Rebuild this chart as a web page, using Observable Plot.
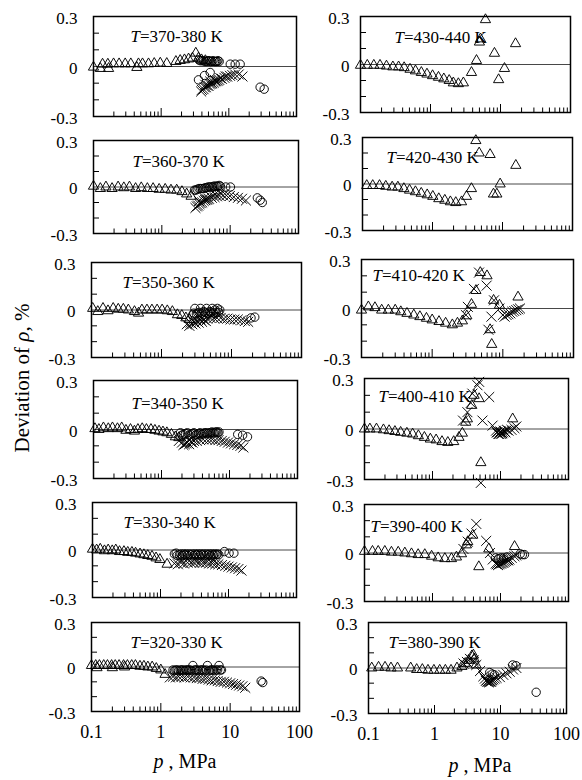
<!DOCTYPE html>
<html>
<head>
<meta charset="utf-8">
<script src="https://cdn.jsdelivr.net/npm/d3@7"></script>
<script src="https://cdn.jsdelivr.net/npm/@observablehq/plot@0.6"></script>
<style>
  body { margin: 0; background: #fff; }
  #fig { position: relative; width: 582px; height: 780px; font-family: "Liberation Serif", "Times New Roman", serif; color: #000; }
  #fig svg { position: absolute; overflow: visible; }
  .ytitle { position: absolute; left: 22px; top: 378px; transform: translate(-50%, -50%) rotate(-90deg); font-size: 21px; white-space: nowrap; }
  .xtitle { position: absolute; font-size: 20px; transform: translate(-50%, -50%); white-space: nowrap; }
</style>
</head>
<body>
<div id="fig">
  <div class="ytitle">Deviation of <i>ρ</i>, %</div>
  <div class="xtitle" style="left:185px;top:761px"><i>p</i> , MPa</div>
  <div class="xtitle" style="left:480px;top:765px"><i>p</i> , MPa</div>
</div>
<script>
// Temperature ranges of the twelve panels
const ranges = ["370-380", "360-370", "350-360", "340-350", "330-340", "320-330",
                "430-440", "420-430", "410-420", "400-410", "390-400", "380-390"];

// Axis ticks
const xLabels = [0.1, 1, 10, 100];
const xMajor = [1, 10];
const xMinor = [0.2, 0.3, 0.4, 0.5, 0.6, 0.7, 0.8, 0.9, 2, 3, 4, 5, 6, 7, 8, 9, 20, 30, 40, 50, 60, 70, 80, 90];
const yLabels = [-0.3, 0, 0.3];
const yMinor = [-0.2, -0.1, 0.1, 0.2];

// Deviations [p (MPa), deviation (%)] — triangles, circles, crosses
const tri370 = [[0.1,-0.004],[0.126,-0.012],[0.136,0.014],[0.163,0.014],[0.167,-0.012],[0.198,0.016],[0.239,0.016],[0.294,0.016],[0.356,0.016],[0.437,-0.006],[0.462,0.016],[0.53,0.016],[0.65,0.016],[0.79,0.018],[0.97,0.02],[1.21,0.018],[1.65,0.03],[1.91,0.036],[2.21,0.04],[2.54,0.045],[2.9,0.05],[3.25,0.08],[3.56,0.05],[3.95,0.04],[4.5,0.035]];
const cir370 = [[3.77,0.035],[4.23,0.035],[4.73,0.03],[5.12,0.035],[5.61,0.03],[6.14,0.03],[6.65,0.03],[7.2,0.03],[3.6,0.04],[4.0,0.035],[4.45,0.03],[4.9,0.035],[5.35,0.03],[5.85,0.035],[6.4,0.03],[6.9,0.035],[3.56,-0.08],[4.37,-0.054],[5.3,-0.036],[10.5,0.014],[12.4,0.014],[14.7,0.014],[29,-0.124],[33.3,-0.136]];
const crs370 = [[3.9,-0.15],[4.23,-0.136],[4.57,-0.124],[5.0,-0.116],[5.49,-0.104],[6.0,-0.096],[6.58,-0.088],[7.2,-0.08],[7.9,-0.074],[8.6,-0.068],[9.45,-0.06],[10.4,-0.056],[11.3,-0.052],[12.4,-0.048],[14.0,-0.048],[15.9,-0.06],[4.5,-0.11],[5.3,-0.09],[6.2,-0.08],[7.5,-0.07],[9,-0.06],[4.0,-0.14],[4.4,-0.125],[4.8,-0.115],[5.2,-0.105],[5.7,-0.1],[6.3,-0.09],[6.9,-0.085]];

const tri360 = [[0.1,0.005],[0.126,-0.01],[0.152,0.0],[0.187,-0.01],[0.229,0.0],[0.278,-0.005],[0.336,0.0],[0.413,-0.01],[0.5,-0.005],[0.614,-0.01],[0.745,-0.01],[0.913,-0.015],[1.12,-0.015],[1.36,-0.02],[1.65,-0.02],[1.97,-0.03],[2.31,-0.045],[2.68,-0.06]];
const cir360 = [[3.0,-0.02],[3.3,-0.015],[3.7,-0.01],[4.1,-0.01],[4.5,-0.005],[5.0,0.0],[5.5,0.0],[6.0,0.005],[6.6,0.005],[7.2,0.005],[3.15,-0.02],[3.5,-0.01],[3.9,-0.01],[4.3,-0.005],[4.75,0.0],[5.25,0.0],[5.75,0.005],[6.3,0.005],[6.9,0.01],[8.6,0.0],[10.1,0.0],[25,-0.07],[27.5,-0.085],[29.5,-0.1]];
const crs360 = [[3.1,-0.135],[3.4,-0.12],[3.7,-0.104],[4.1,-0.09],[4.5,-0.083],[4.9,-0.076],[5.4,-0.07],[5.9,-0.065],[6.4,-0.06],[7.0,-0.057],[7.9,-0.054],[8.8,-0.054],[9.9,-0.058],[11.3,-0.065],[13,-0.07],[14.9,-0.076],[17,-0.087],[3.5,-0.09],[4.2,-0.07],[5,-0.055],[6,-0.045],[7.2,-0.04],[3.25,-0.125],[3.55,-0.11],[3.9,-0.1],[4.3,-0.085],[4.7,-0.08]];

const tri350 = [[0.104,0.01],[0.123,-0.01],[0.146,0.01],[0.172,-0.005],[0.204,0.01],[0.241,0.005],[0.285,0.005],[0.336,0.0],[0.411,-0.01],[0.47,-0.02],[0.525,0.0],[0.62,0.0],[0.73,0.0],[0.865,0.0],[1.02,0.0],[1.21,-0.005],[1.43,-0.01],[1.69,-0.03],[1.95,-0.035],[2.23,-0.05],[2.49,-0.06]];
const cir350 = [[2.8,-0.03],[3.0,0.01],[3.3,-0.02],[3.6,0.01],[4.0,-0.01],[4.4,0.01],[4.9,-0.01],[5.3,0.01],[5.8,0.0],[6.3,0.01],[6.8,0.0],[2.9,-0.02],[3.15,-0.025],[3.45,-0.015],[3.8,-0.02],[4.2,-0.015],[4.65,-0.02],[5.1,-0.015],[5.55,-0.02],[6.0,-0.015],[6.55,-0.015],[19,-0.05],[21.5,-0.045]];
const crs350 = [[2.3,-0.09],[2.6,-0.08],[2.9,-0.075],[3.2,-0.07],[3.6,-0.06],[4.0,-0.06],[4.5,-0.055],[5.0,-0.05],[5.6,-0.05],[6.2,-0.05],[7,-0.05],[7.8,-0.055],[8.7,-0.055],[9.7,-0.06],[11,-0.06],[12.3,-0.06],[13.8,-0.065],[15.5,-0.07],[17.3,-0.075],[3.4,-0.035],[4.2,-0.03],[5.2,-0.025],[6.4,-0.03],[2.5,-0.1],[2.75,-0.09],[3.05,-0.085],[3.4,-0.08],[3.8,-0.075],[4.3,-0.07]];

const tri340 = [[0.105,0.005],[0.12,0.0],[0.14,0.01],[0.165,0.005],[0.19,0.01],[0.225,0.005],[0.26,0.01],[0.3,-0.005],[0.35,0.0],[0.4,-0.01],[0.45,0.0],[0.52,0.005],[0.6,0.0],[0.7,0.0],[0.8,-0.005],[0.92,-0.01],[1.05,-0.015],[1.2,-0.02],[1.4,-0.03],[1.6,-0.045],[1.8,-0.05]];
const cir340 = [[1.9,-0.02],[2.1,-0.03],[2.4,-0.02],[2.7,-0.03],[3.0,-0.02],[3.3,-0.03],[3.7,-0.02],[4.1,-0.025],[4.5,-0.02],[5.0,-0.02],[5.5,-0.015],[6.0,-0.02],[6.5,-0.015],[7.0,-0.015],[2.0,-0.035],[2.25,-0.025],[2.55,-0.035],[2.85,-0.025],[3.15,-0.035],[3.5,-0.025],[3.9,-0.03],[4.3,-0.02],[4.75,-0.025],[5.25,-0.02],[5.75,-0.02],[6.25,-0.015],[6.75,-0.02],[13.2,-0.03],[15.6,-0.035],[18.4,-0.045]];
const crs340 = [[1.8,-0.07],[2.0,-0.08],[2.2,-0.09],[2.4,-0.08],[2.7,-0.075],[3.0,-0.07],[3.3,-0.07],[3.7,-0.065],[4.1,-0.06],[4.6,-0.06],[5.1,-0.06],[5.6,-0.06],[6.2,-0.065],[6.9,-0.065],[7.7,-0.07],[8.5,-0.075],[9.5,-0.08],[10.5,-0.085],[11.7,-0.09],[13,-0.095],[14.5,-0.1],[16,-0.11],[2.1,-0.095],[2.3,-0.085],[2.55,-0.09],[2.85,-0.08]];

const tri330 = [[0.1,0.005],[0.115,0.0],[0.13,0.005],[0.15,-0.005],[0.17,0.0],[0.195,-0.005],[0.22,0.0],[0.25,-0.01],[0.29,-0.01],[0.33,-0.015],[0.38,-0.015],[0.43,-0.02],[0.5,-0.025],[0.57,-0.03],[0.65,-0.035],[0.75,-0.04],[0.86,-0.05],[0.98,-0.06],[1.25,-0.09]];
const cir330 = [[1.6,-0.025],[1.75,-0.035],[1.9,-0.03],[2.1,-0.035],[2.3,-0.03],[2.5,-0.035],[2.8,-0.03],[3.1,-0.035],[3.4,-0.03],[3.7,-0.035],[4.1,-0.03],[4.5,-0.035],[5.0,-0.03],[5.5,-0.035],[6.0,-0.03],[6.6,-0.03],[7.2,-0.03],[1.7,-0.02],[2.0,-0.025],[2.2,-0.025],[2.4,-0.025],[2.65,-0.025],[2.95,-0.025],[3.25,-0.025],[3.55,-0.025],[3.9,-0.025],[4.3,-0.025],[4.75,-0.025],[5.25,-0.025],[5.75,-0.025],[6.3,-0.025],[6.9,-0.025],[8.7,-0.01],[10.2,-0.02],[12,-0.02]];
const crs330 = [[1.6,-0.085],[1.8,-0.09],[2.0,-0.08],[2.2,-0.085],[2.5,-0.08],[2.8,-0.08],[3.1,-0.08],[3.4,-0.075],[3.8,-0.08],[4.2,-0.08],[4.7,-0.08],[5.2,-0.085],[5.8,-0.085],[6.4,-0.09],[7.1,-0.09],[8,-0.095],[9,-0.1],[10,-0.105],[11.2,-0.11],[12.5,-0.115],[14,-0.12],[15.5,-0.13],[2.0,-0.06],[2.5,-0.055],[3.2,-0.06],[4,-0.06],[5,-0.06],[6,-0.065]];

const tri320 = [[0.1,0.01],[0.115,0.01],[0.12,-0.005],[0.13,0.01],[0.15,0.01],[0.17,0.01],[0.195,0.01],[0.2,-0.005],[0.22,0.01],[0.25,0.01],[0.29,0.01],[0.3,0.0],[0.33,0.01],[0.38,0.01],[0.43,0.01],[0.5,0.005],[0.57,0.005],[0.65,0.0],[0.75,0.0],[0.86,-0.01],[1.0,-0.02],[1.15,-0.05]];
const cir320 = [[1.5,-0.02],[1.65,-0.02],[1.8,-0.025],[2.0,-0.02],[2.2,-0.025],[2.4,-0.02],[2.65,-0.02],[2.9,0.01],[3.2,-0.02],[3.5,-0.025],[3.9,-0.02],[4.3,-0.025],[4.7,0.01],[5.2,-0.02],[5.7,-0.02],[6.3,-0.02],[6.9,0.01],[7.5,-0.02],[1.57,-0.025],[1.72,-0.02],[1.9,-0.02],[2.1,-0.02],[2.3,-0.02],[2.52,-0.02],[2.78,-0.025],[3.05,-0.02],[3.35,-0.02],[3.7,-0.02],[4.1,-0.02],[4.5,-0.02],[4.95,-0.025],[5.45,-0.02],[6.0,-0.025],[6.6,-0.02],[7.2,-0.02],[28,-0.095],[29.5,-0.105]];
const crs320 = [[1.35,-0.07],[1.5,-0.065],[1.65,-0.07],[1.8,-0.065],[2.0,-0.065],[2.2,-0.07],[2.45,-0.065],[2.7,-0.07],[3.0,-0.07],[3.3,-0.075],[3.6,-0.075],[4.0,-0.08],[4.4,-0.08],[4.9,-0.085],[5.4,-0.09],[6.0,-0.09],[6.6,-0.095],[7.3,-0.1],[8.1,-0.1],[9,-0.105],[10,-0.11],[11,-0.115],[12.2,-0.12],[13.5,-0.125],[15,-0.13],[16.5,-0.14]];

const tri430 = [[0.1,-0.005],[0.125,-0.005],[0.155,-0.005],[0.19,-0.005],[0.235,-0.01],[0.29,-0.015],[0.35,-0.015],[0.42,-0.02],[0.51,-0.03],[0.61,-0.04],[0.74,-0.05],[0.89,-0.06],[1.07,-0.07],[1.3,-0.08],[1.55,-0.09],[1.85,-0.1],[2.12,-0.115],[2.5,-0.12],[2.95,-0.115],[3.85,-0.05],[4.54,0.025],[5.0,0.14],[5.18,0.16],[6.1,0.28],[8.2,0.07],[9.4,-0.095],[11.4,-0.025],[16.4,0.13]];

const tri420 = [[0.115,-0.01],[0.14,-0.01],[0.175,-0.01],[0.215,-0.015],[0.265,-0.02],[0.32,-0.02],[0.39,-0.03],[0.47,-0.04],[0.57,-0.05],[0.69,-0.06],[0.84,-0.07],[1.01,-0.08],[1.23,-0.095],[1.5,-0.105],[1.8,-0.115],[2.15,-0.12],[2.6,-0.115],[3.06,-0.08],[3.6,-0.03],[4.16,0.28],[4.64,0.2],[6.65,0.19],[7.43,-0.065],[8.3,-0.065],[9.25,0.0],[15.5,0.12]];

const tri410 = [[0.1,-0.01],[0.125,0.01],[0.155,0.005],[0.193,-0.01],[0.24,-0.01],[0.3,-0.01],[0.36,-0.02],[0.44,-0.03],[0.55,-0.04],[0.67,-0.05],[0.83,-0.06],[1.0,-0.07],[1.25,-0.08],[1.55,-0.09],[1.93,-0.1],[2.28,-0.09],[2.68,-0.076],[3.09,-0.045],[3.6,0.025],[4.16,0.11],[4.8,0.22],[5.97,0.2],[6.6,-0.13],[6.96,-0.22],[7.4,0.05],[8.96,0.02],[16.4,0.07]];
const crs410 = [[3.0,-0.04],[3.2,0.01],[3.9,0.12],[4.6,0.22],[5.9,0.14],[6.25,-0.13],[6.9,-0.05],[7.5,0.05],[8.96,0.0],[10,-0.04],[10.6,-0.05],[11.3,-0.04],[12,-0.035],[12.8,-0.03],[13.6,-0.02],[14.5,-0.015],[15.5,-0.01],[16.5,-0.005],[17.5,0.0]];

const tri400 = [[0.1,0.0],[0.12,0.0],[0.15,0.0],[0.19,-0.005],[0.23,-0.01],[0.28,-0.015],[0.34,-0.02],[0.42,-0.025],[0.51,-0.03],[0.62,-0.04],[0.76,-0.05],[0.93,-0.06],[1.13,-0.065],[1.38,-0.075],[1.68,-0.08],[2.05,-0.075],[2.45,-0.05],[2.75,-0.025],[3.08,0.04],[3.26,0.06],[3.78,0.14],[4.09,0.2],[4.85,0.18],[5.14,-0.2],[15.1,0.06]];
const crs400 = [[2.81,0.05],[3.26,0.1],[3.65,0.155],[3.86,0.21],[4.58,0.26],[4.85,0.28],[6.82,0.19],[5.43,0.05],[5.14,-0.32],[7.64,0.02],[8.58,-0.01],[9.6,-0.03],[10.6,-0.025],[11.8,-0.02],[13.1,-0.01],[14.5,-0.005],[16,0.005],[17.1,0.015],[9.0,-0.02],[10,-0.015],[11.2,-0.01],[12.5,-0.005],[8.8,-0.02],[9.3,-0.03],[9.9,-0.02],[10.3,-0.03],[10.9,-0.02],[11.5,-0.015]];

const tri390 = [[0.1,0.01],[0.131,0.01],[0.159,0.01],[0.199,0.01],[0.249,0.005],[0.313,0.005],[0.392,0.0],[0.491,-0.005],[0.615,-0.01],[0.77,-0.01],[0.97,-0.02],[1.21,-0.03],[1.52,-0.035],[1.9,-0.035],[2.25,-0.025],[2.67,-0.005],[3.15,0.05],[3.3,0.07],[3.91,0.11],[4.8,-0.085],[6.73,0.025],[16.1,0.04]];
const cir390 = [[8.5,-0.03],[9.3,-0.035],[10.2,-0.03],[11.2,-0.03],[12.5,-0.025],[19.5,-0.005],[21,-0.01],[22.5,-0.01]];
const crs390 = [[2.85,0.025],[3.3,0.07],[3.75,0.12],[4.4,0.18],[6.16,0.075],[7.0,0.0],[7.7,-0.04],[8.5,-0.065],[9.2,-0.075],[9.8,-0.065],[10.6,-0.06],[11.5,-0.055],[12.5,-0.045],[13.5,-0.04],[14.6,-0.03],[16,-0.02],[17,-0.015],[8.8,-0.07],[9.5,-0.07],[10.2,-0.065],[11,-0.06],[12,-0.05],[13,-0.045]];

const tri380 = [[0.112,0.0],[0.142,0.005],[0.178,0.005],[0.219,0.0],[0.275,0.0],[0.436,0.0],[0.537,-0.01],[0.654,-0.01],[0.796,-0.015],[0.98,-0.015],[1.2,-0.015],[1.46,-0.015],[1.78,-0.015],[2.19,0.0],[2.6,0.01],[2.92,0.03],[3.28,0.05],[3.68,0.08],[3.89,0.085],[4.0,0.06],[4.27,0.02]];
const cir380 = [[6.85,-0.03],[7.5,-0.04],[8.1,-0.045],[15.3,0.02],[17.2,0.015],[34.7,-0.16]];
const crs380 = [[2.75,0.03],[3.1,0.04],[3.45,0.06],[3.9,0.05],[4.3,0.02],[4.9,-0.02],[5.5,-0.055],[5.8,-0.07],[6.17,-0.08],[6.5,-0.09],[6.92,-0.09],[7.3,-0.085],[7.77,-0.075],[8.72,-0.065],[9.78,-0.06],[11,-0.045],[12.3,-0.035],[13.8,-0.025],[15.5,-0.01],[17.4,0.0],[6.0,-0.085],[6.3,-0.09],[6.7,-0.095],[7.1,-0.09],[7.5,-0.08],[8.2,-0.07]];

const series = {
  "370-380": [tri370, cir370, crs370], "360-370": [tri360, cir360, crs360],
  "350-360": [tri350, cir350, crs350], "340-350": [tri340, cir340, crs340],
  "330-340": [tri330, cir330, crs330], "320-330": [tri320, cir320, crs320],
  "430-440": [tri430, [], []], "420-430": [tri420, [], []],
  "410-420": [tri410, [], crs410], "400-410": [tri400, [], crs400],
  "390-400": [tri390, cir390, crs390], "380-390": [tri380, cir380, crs380]
};

// Frame boxes (left, right, top, bottom) and label offsets for each panel
const layout = [
  {l: 93, r: 296, t: 16, b: 116, lx: 37, ly: 20},
  {l: 93, r: 298, t: 140, b: 233, lx: 39, ly: 21},
  {l: 91, r: 301, t: 262, b: 357, lx: 31, ly: 20},
  {l: 93, r: 297, t: 380, b: 478, lx: 38, ly: 23},
  {l: 92, r: 296, t: 502, b: 597, lx: 31, ly: 20},
  {l: 91, r: 299, t: 622, b: 711, lx: 39, ly: 20},
  {l: 360, r: 570, t: 16, b: 112, lx: 34, ly: 21},
  {l: 362, r: 572, t: 137, b: 230, lx: 24, ly: 20},
  {l: 361, r: 573, t: 259, b: 357, lx: 11, ly: 16},
  {l: 364, r: 568, t: 378, b: 479, lx: 14, ly: 18},
  {l: 364, r: 568, t: 504, b: 601, lx: 6, ly: 22},
  {l: 368, r: 566, t: 622, b: 713, lx: 20, ly: 20}
];

const fmtY = d => d === 0 ? "0" : (d < 0 ? "-" : "") + Math.abs(d).toFixed(1);
const fig = document.getElementById("fig");

ranges.forEach((range, i) => {
  const box = layout[i];
  const col = i < 6 ? 0 : 1;
  const bottomRow = i === 5 || i === 11;
  const mL = 50, mR = 12, mT = 12, mB = bottomRow ? 40 : 14;
  const w = box.r - box.l, h = box.b - box.t;
  const [tri, cir, crs] = series[range];
  const pt = d => d[0], dv = d => d[1];

  const marks = [
    Plot.ruleY([0], {stroke: "#333", strokeWidth: 0.9}),
    Plot.ruleY(yMinor, {insetRight: w - 6, stroke: "#000", strokeWidth: 1}),
    Plot.ruleX(xMinor, {insetTop: h - 4.5, stroke: "#000", strokeWidth: 1}),
    Plot.ruleX(xMajor, {insetTop: h - 8, stroke: "#000", strokeWidth: 1}),
    Plot.dot(tri, {x: pt, y: dv, symbol: "triangle", r: 3.8, stroke: "#000", strokeWidth: 0.95, fill: "none"}),
    Plot.dot(cir, {x: pt, y: dv, symbol: "circle", r: 4.2, stroke: "#000", strokeWidth: 0.95, fill: "none"}),
    Plot.dot(crs, {x: pt, y: dv, symbol: "times", r: 4.6, stroke: "#000", strokeWidth: 0.95, fill: "none"}),
    Plot.text([range], {frameAnchor: "top-left", dx: box.lx, dy: box.ly, text: () => "T",
      fontStyle: "italic", textAnchor: "start", lineAnchor: "middle", fontSize: 17}),
    Plot.text([range], {frameAnchor: "top-left", dx: box.lx + 9.5, dy: box.ly, text: d => "=" + d + " K",
      textAnchor: "start", lineAnchor: "middle", fontSize: 17}),
    Plot.axisY({ticks: yLabels, tickSize: 0, tickPadding: col === 0 ? 16 : 11, tickFormat: fmtY, fontSize: 17, dy: 2}),
    Plot.frame({stroke: "#000", strokeWidth: 1.5})
  ];
  if (bottomRow) {
    marks.push(Plot.axisX({ticks: xLabels, tickSize: 0, tickPadding: 14, tickFormat: d => String(d), fontSize: 18}));
  }

  const svg = Plot.plot({
    width: w + mL + mR,
    height: h + mT + mB,
    marginLeft: mL, marginRight: mR, marginTop: mT, marginBottom: mB,
    x: {type: "log", domain: [0.1, 100], axis: null},
    y: {domain: [-0.3, 0.3], axis: null},
    style: {fontFamily: "'Liberation Serif', 'Times New Roman', serif", fontSize: "17px", background: "transparent", color: "#000"},
    marks
  });
  svg.style.left = (box.l - mL) + "px";
  svg.style.top = (box.t - mT) + "px";
  svg.style.maxWidth = "none";
  fig.appendChild(svg);
});
</script>
</body>
</html>
